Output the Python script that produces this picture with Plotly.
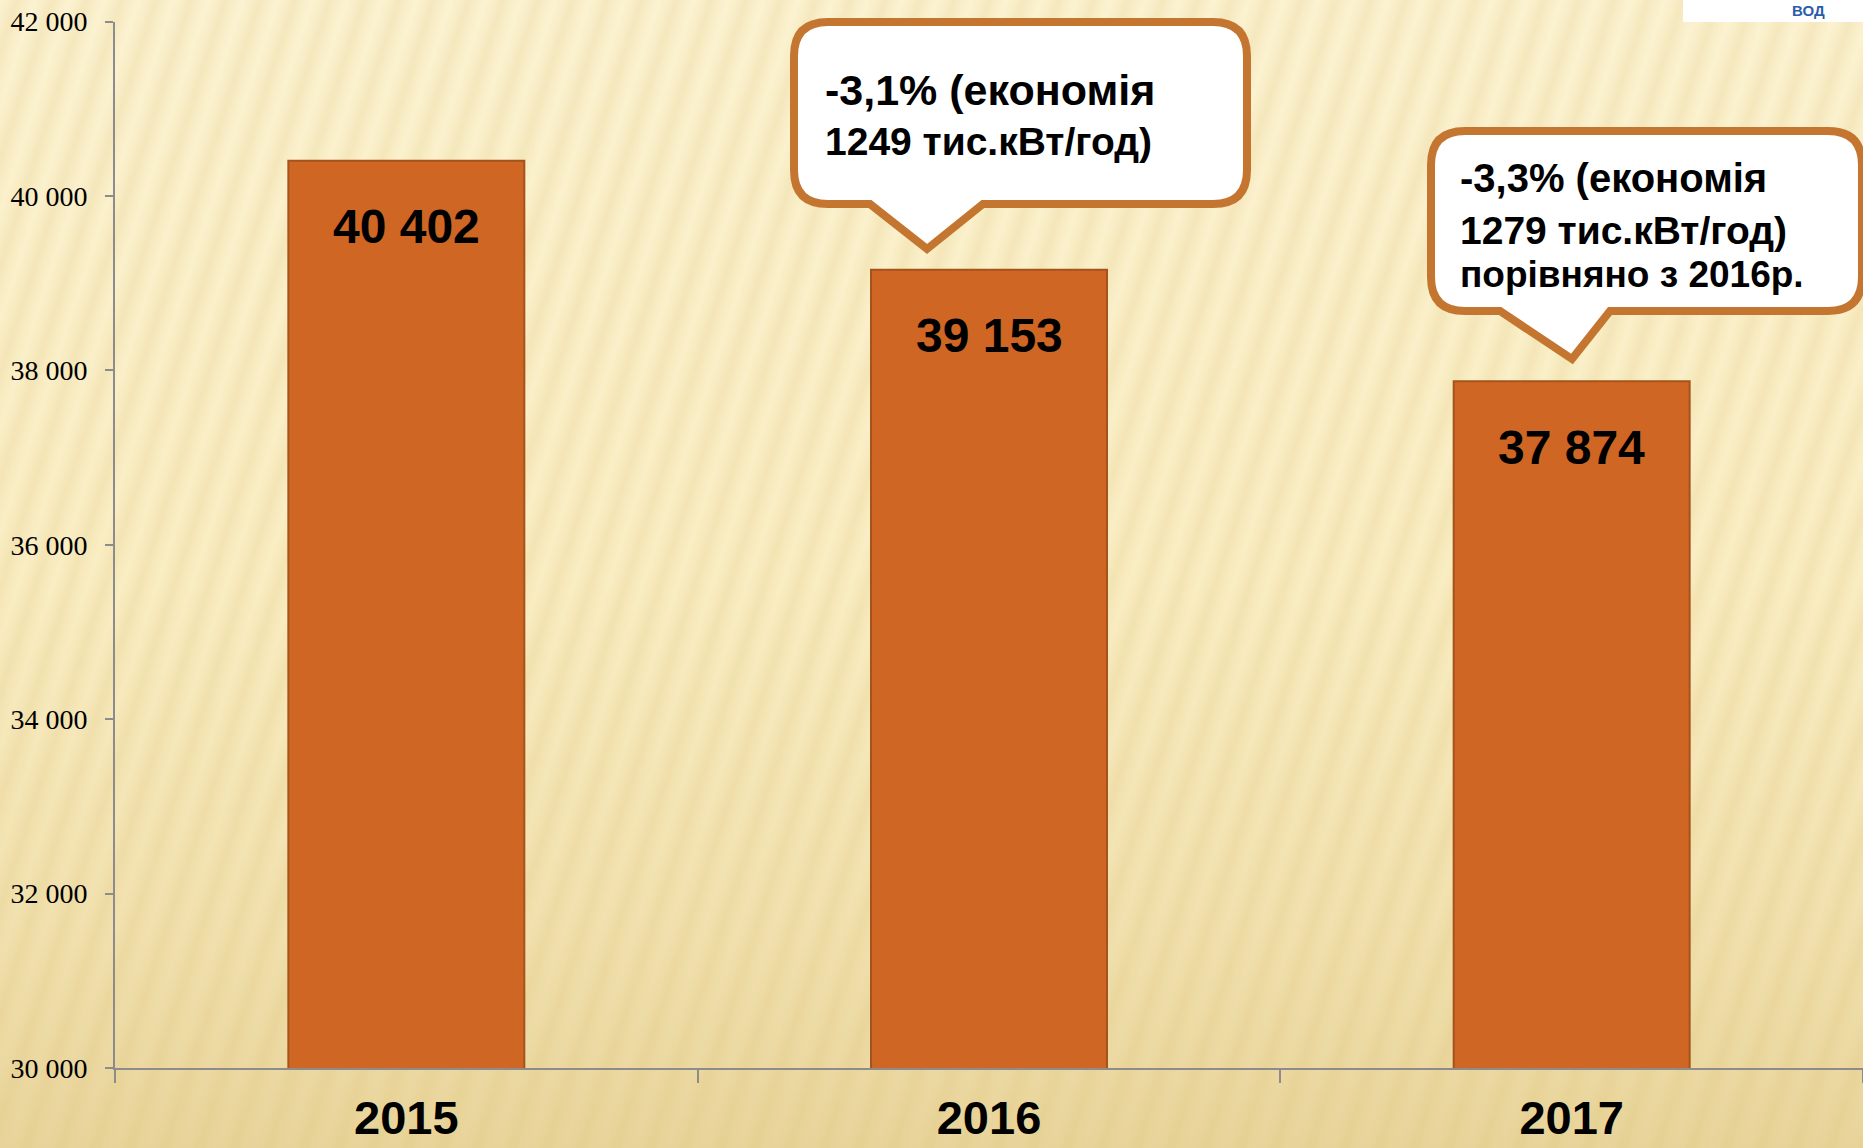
import base64
import plotly.graph_objects as go

# ---------------- data ----------------
years = ["2015", "2016", "2017"]
consumption = [40402, 39153, 37874]
y_tick_values = [30000, 32000, 34000, 36000, 38000, 40000, 42000]
y_tick_labels = ["30 000", "32 000", "34 000", "36 000", "38 000", "40 000", "42 000"]
callout_2016 = ["-3,1% (економія", "1249 тис.кВт/год)"]
callout_2017 = ["-3,3% (економія", "1279 тис.кВт/год)", "порівняно з 2016р."]

# ---------------- geometry helpers ----------------
W, H = 1863, 1148


def px(x):
    return x / W


def py(y):
    return 1 - y / H


SANS = "Arial, 'Liberation Sans', sans-serif"
SERIF = "'Times New Roman', 'Liberation Serif', serif"

# ---------------- background (decorative) ----------------
svg = f'''<svg xmlns="http://www.w3.org/2000/svg" width="{W}" height="{H}" viewBox="0 0 {W} {H}">
<defs>
<linearGradient id="g" x1="0" y1="0" x2="0" y2="1">
<stop offset="0" stop-color="#FCF3D2"/>
<stop offset="0.5" stop-color="#FAEEC4"/>
<stop offset="0.8" stop-color="#F2E2B0"/>
<stop offset="1" stop-color="#E9D59C"/>
</linearGradient>
<linearGradient id="s" x1="0" y1="0" x2="1" y2="0">
<stop offset="0" stop-color="#D9BC70" stop-opacity="0"/>
<stop offset="0.5" stop-color="#D9BC70" stop-opacity="0.2"/>
<stop offset="1" stop-color="#D9BC70" stop-opacity="0"/>
</linearGradient>
<pattern id="p" width="33" height="400" patternUnits="userSpaceOnUse" patternTransform="rotate(18)">
<rect x="0" y="0" width="33" height="400" fill="url(#s)"/>
</pattern>
</defs>
<rect x="0" y="0" width="{W}" height="{H}" fill="url(#g)"/>
<rect x="0" y="0" width="{W}" height="{H}" fill="url(#p)"/>
</svg>'''
bg_src = "data:image/svg+xml;base64," + base64.b64encode(svg.encode("utf-8")).decode("ascii")

# ---------------- figure ----------------
fig = go.Figure()
fig.add_trace(go.Bar(
    x=years,
    y=consumption,
    width=0.405,
    marker=dict(color="#D06623", line=dict(color="#A5531D", width=2)),
    hoverinfo="x+y",
    showlegend=False,
))

# value labels inside bars (positioned from data via axis scales)
for i, v in enumerate(consumption):
    fig.add_annotation(
        x=i, y=v, xref="x", yref="y",
        text=f"{v:,}".replace(",", " "),
        showarrow=False, yshift=-66,
        font=dict(family=SANS, size=48, color="black", weight="bold"),
    )


def callout_path(x0, y0, x1, y1, r, tail_l, tail_r, tip_x, tip_y):
    pts = [
        f"M {px(x0 + r)},{py(y0)}",
        f"L {px(x1 - r)},{py(y0)}",
        f"Q {px(x1)},{py(y0)} {px(x1)},{py(y0 + r)}",
        f"L {px(x1)},{py(y1 - r)}",
        f"Q {px(x1)},{py(y1)} {px(x1 - r)},{py(y1)}",
        f"L {px(tail_r)},{py(y1)}",
        f"L {px(tip_x)},{py(tip_y)}",
        f"L {px(tail_l)},{py(y1)}",
        f"L {px(x0 + r)},{py(y1)}",
        f"Q {px(x0)},{py(y1)} {px(x0)},{py(y1 - r)}",
        f"L {px(x0)},{py(y0 + r)}",
        f"Q {px(x0)},{py(y0)} {px(x0 + r)},{py(y0)}",
        "Z",
    ]
    return " ".join(pts)


BORDER = "#C47630"
fig.add_shape(type="path", xref="paper", yref="paper",
              path=callout_path(794, 22, 1247, 204, 34, 870, 983, 927, 249),
              fillcolor="white", line=dict(color=BORDER, width=8), layer="above")
fig.add_shape(type="path", xref="paper", yref="paper",
              path=callout_path(1431, 131, 1862, 311, 34, 1500, 1610, 1572, 359),
              fillcolor="white", line=dict(color=BORDER, width=8), layer="above")

# callout texts
for line, base, size in zip(callout_2016, [103, 155], [43, 39]):
    fig.add_annotation(x=px(823), y=py(base - 13), xref="paper", yref="paper",
                       text=line, showarrow=False, xanchor="left", yanchor="middle",
                       font=dict(family=SANS, size=size, color="black", weight="bold"))
for line, base, size in zip(callout_2017, [190, 242, 287], [40, 39, 37]):
    fig.add_annotation(x=px(1458), y=py(base - 12), xref="paper", yref="paper",
                       text=line, showarrow=False, xanchor="left", yanchor="middle",
                       font=dict(family=SANS, size=size, color="black", weight="bold"))

# white logo box in the top-right corner
fig.add_shape(type="rect", xref="paper", yref="paper",
              x0=px(1683), x1=1, y0=py(22), y1=1,
              fillcolor="white", line=dict(width=0), layer="above")
fig.add_annotation(x=px(1808), y=py(11), xref="paper", yref="paper",
                   text="ВОД", showarrow=False, xanchor="center", yanchor="middle",
                   font=dict(family=SANS, size=15, color="#2A5DA8", weight="bold"))

AX = "#8C8C8C"
fig.update_layout(
    width=W, height=H,
    margin=dict(l=0, r=0, t=0, b=0),
    paper_bgcolor="#F8EBC0",
    plot_bgcolor="rgba(0,0,0,0)",
    images=[dict(source=bg_src, xref="paper", yref="paper", x=0, y=1,
                 sizex=1, sizey=1, sizing="stretch", xanchor="left", yanchor="top",
                 layer="below")],
    xaxis=dict(
        type="category", domain=[px(115), 1], range=[-0.5, 2.5],
        tickson="boundaries", ticks="outside", ticklen=13, tickwidth=2, tickcolor=AX,
        showline=True, linecolor=AX, linewidth=2, showgrid=False, automargin=False,
        tickfont=dict(family=SANS, size=47, color="black", weight="bold"),
        ticklabelstandoff=8,
    ),
    yaxis=dict(
        domain=[py(1068), py(21.5)], range=[30000, 42000],
        tickvals=y_tick_values, ticktext=y_tick_labels,
        ticks="outside", ticklen=8, tickwidth=2, tickcolor=AX,
        showline=True, linecolor=AX, linewidth=2, showgrid=False, zeroline=False,
        automargin=False,
        tickfont=dict(family=SERIF, size=28, color="black"),
        ticklabelstandoff=12,
    ),
)

fig.write_html(
    "out.html",
    config={"displayModeBar": False},
    post_script="document.body.style.margin='0px';document.body.style.overflow='hidden';",
)
